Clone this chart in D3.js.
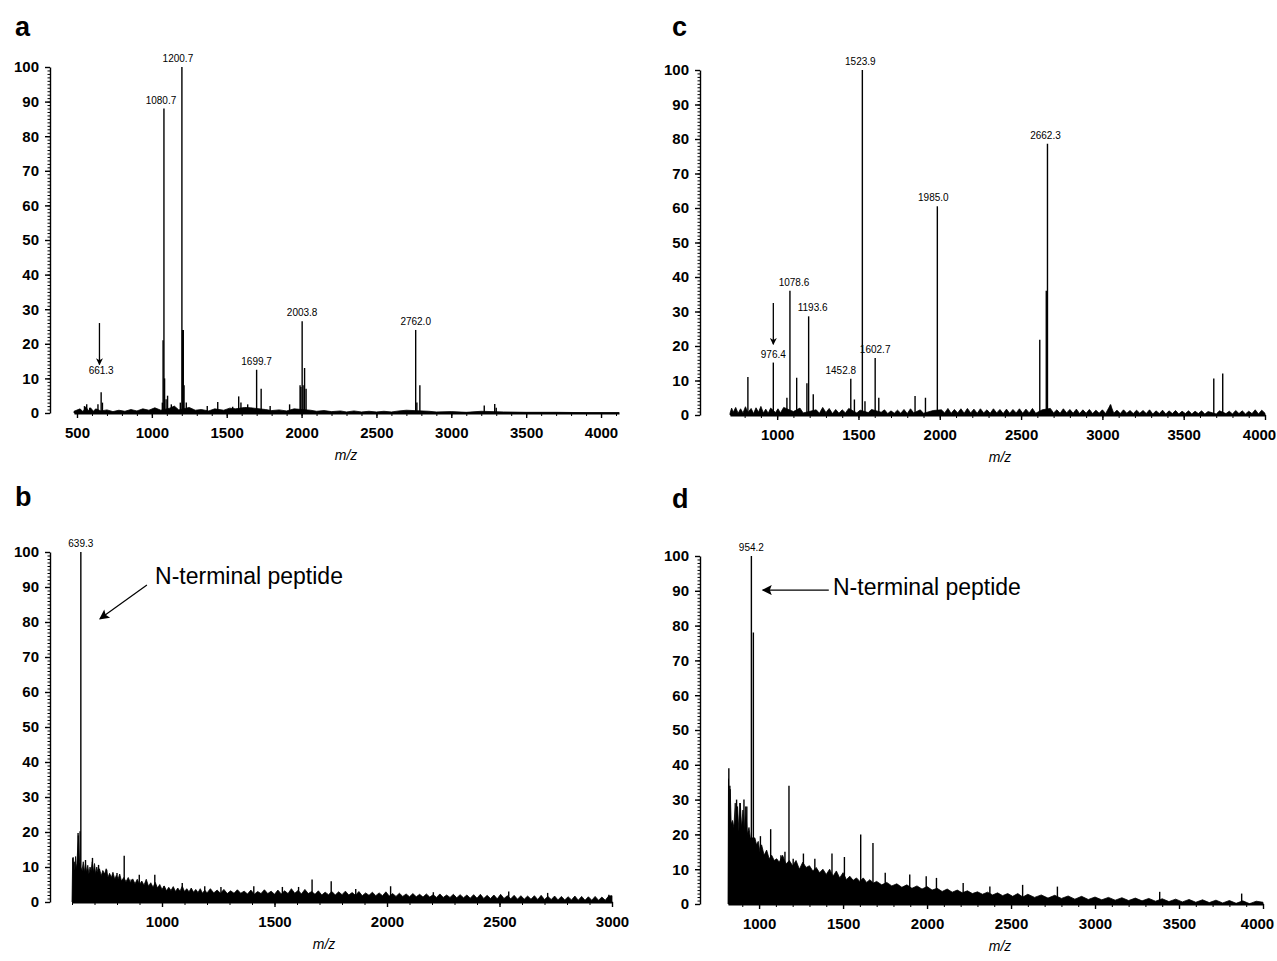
<!DOCTYPE html>
<html>
<head>
<meta charset="utf-8">
<script src="https://cdn.jsdelivr.net/npm/d3@7"></script>
<style>
  body { margin: 0; background: #fff; }
  svg { display: block; }
  text { font-family: "Liberation Sans", Arial, sans-serif; fill: #000; }
</style>
</head>
<body>
<svg id="fig" width="1277" height="961"></svg>
<script>
// tick labels
const yTickLabels = [0, 10, 20, 30, 40, 50, 60, 70, 80, 90, 100];
const xTicksA = [500, 1000, 1500, 2000, 2500, 3000, 3500, 4000];
const xTicksB = [1000, 1500, 2000, 2500, 3000];
const xTicksC = [1000, 1500, 2000, 2500, 3000, 3500, 4000];
const xTicksD = [1000, 1500, 2000, 2500, 3000, 3500, 4000];

// panel a: baseline noise [m/z, %] and peaks
const baseA = [[480,0.5],[520,1.2],[540,0.4],[560,1.8],[575,0.6],[590,1.5],[610,0.5],[625,1.2],[660,0.6],[700,0.9],[740,0.4],[780,0.8],
  [820,0.5],[860,1],[900,0.6],[940,1.2],[980,0.8],[1020,1.5],[1060,0.8],[1120,1.4],[1150,2],[1180,0.9],[1250,1.6],[1290,0.8],[1330,1],[1380,0.6],
  [1420,1.2],[1480,0.8],[1520,1.4],[1560,1.2],[1620,1.6],[1660,1.5],[1760,1],[1800,0.7],[1850,0.9],[1900,0.6],[1950,1.2],[2060,0.8],
  [2100,0.5],[2150,0.7],[2200,0.4],[2260,0.6],[2300,0.3],[2350,0.6],[2400,0.3],[2450,0.5],[2500,0.3],[2550,0.5],[2600,0.3],[2650,0.6],
  [2700,0.8],[2850,0.5],[2900,0.3],[3000,0.4],[3100,0.2],[3200,0.5],[3350,0.3],[3500,0.2],[3700,0.2],[3900,0.1],[4120,0.1]];
const peaksA = [[550,2],[565,2.5],[585,1.5],[640,2.5],[661.3,6],[670,3],[1070,3],[1075,21],[1080.7,88],[1085,10],[1095,4],[1105,5],
  [1130,2.5],[1190,3],[1200.7,100],[1205,24],[1210,24],[1215,8],[1230,3],[1370,2],[1440,3.2],[1540,1.8],[1580,4.8],[1595,3],[1640,2.5],
  [1699.7,12.5],[1730,7],[1790,2],[1920,2.5],[1990,8],[1995,7.5],[2003.8,26.5],[2010,8],[2020,13],[2030,7],[2762,24],[2770,3],[2790,8],
  [3220,2.2],[3290,2.6],[3300,1.5]];
const labelsA = ["661.3", "1080.7", "1200.7", "1699.7", "2003.8", "2762.0"];

// panel b
const baseB = [[600,0],[603,12.5],[607,10],[610,11.5],[613,9],[616,13],[619,9.5],[622,11],[628,19],[633,12],[638,10],[645,9],[650,11.5],
  [655,8.5],[660,11],[665,8.5],[670,10.5],[675,8],[680,10],[685,9],[690,11.5],[695,8.5],[700,11],[705,8],[710,10],[715,8.5],[722,9.5],
  [730,7.5],[737,9],[745,8],[752,9.5],[760,7],[767,8.2],[775,7],[782,8.5],[790,6.5],[797,7.6],[805,6.6],[812,8],[820,6],[830,7],[840,5.8],
  [850,7],[860,5.5],[870,6.6],[880,5.2],[890,6.5],[900,5],[910,6],[920,4.8],[930,6.5],[940,4.5],[950,5.5],[960,4.2],[970,5.6],[980,4],
  [990,5],[1000,3.6],[1010,4.6],[1020,3.2],[1030,4.2],[1040,3.3],[1050,4.4],[1060,3],[1070,4],[1080,3.1],[1090,4.5],[1100,3],[1110,3.8],
  [1120,2.9],[1130,4],[1140,2.8],[1150,3.6],[1160,2.7],[1170,3.8],[1180,2.5],[1190,3.4],[1200,2.6],[1215,3.8],[1230,2.6],[1245,3.4],
  [1260,2.5],[1275,3.6],[1290,2.4],[1305,3.2],[1320,2.5],[1335,3.5],[1350,2.5],[1365,3.1],[1380,2.3],[1395,3.4],[1410,2.2],[1425,3],
  [1440,2.4],[1455,3.5],[1470,2.4],[1485,3.1],[1500,2.2],[1515,3.4],[1530,2.3],[1545,3.2],[1560,2.4],[1575,3.8],[1590,2.5],[1605,3.3],
  [1620,2.3],[1635,3.6],[1650,2.4],[1665,3],[1680,2.2],[1695,3.2],[1710,2],[1725,2.8],[1740,2.1],[1755,3],[1770,2],[1785,2.9],[1800,2.1],
  [1815,3.1],[1830,2],[1845,2.7],[1860,1.9],[1875,3],[1890,1.8],[1905,2.6],[1920,1.9],[1935,2.8],[1950,1.8],[1965,2.6],[1980,1.8],
  [1995,2.9],[2010,1.7],[2025,2.4],[2040,1.6],[2055,2.5],[2070,1.6],[2085,2.3],[2100,1.5],[2115,2.4],[2130,1.5],[2145,2.2],[2160,1.4],
  [2175,2.3],[2190,1.4],[2205,2.1],[2220,1.3],[2235,2.3],[2250,1.3],[2265,2],[2280,1.3],[2295,2.2],[2310,1.2],[2325,2.1],[2340,1.2],
  [2355,2],[2370,1.1],[2385,2.1],[2400,1.1],[2415,2.2],[2430,1],[2445,1.9],[2460,1],[2475,2],[2490,0.9],[2505,2.2],[2520,1],[2535,1.8],
  [2550,0.9],[2565,1.9],[2580,0.8],[2595,1.8],[2610,0.8],[2625,1.7],[2640,0.8],[2655,1.8],[2670,0.7],[2685,1.9],[2700,0.7],[2715,1.6],
  [2730,0.7],[2745,1.7],[2760,0.6],[2775,1.6],[2790,0.6],[2805,1.5],[2820,0.6],[2835,1.7],[2850,0.5],[2865,1.6],[2880,0.5],[2895,1.5],
  [2910,0.5],[2925,1.6],[2940,0.5],[2955,1.4],[2970,0.5],[2985,1.7],[3000,1.8],[3000,0]];
const peaksB = [[605,12.8],[627,19.7],[636,20.2],[639.3,100],[660,12],[691,12.6],[718,10.6],[754,9.2],[800,8.3],[832,13.2],[863,6.4],
  [899,7.8],[968,7.8],[1008,4.5],[1090,5.4],[1190,4.5],[1262,4.3],[1408,4.5],[1535,4.3],[1607,4.3],[1667,6.4],[1752,5.9],[1861,3.7],
  [2016,4.5],[2206,2.8],[2541,3],[2714,2.6],[2986,2.1]];
const labelsB = ["639.3"];

// panel c
const baseC = [[710,0.5],[720,2],[730,0.8],[745,2.2],[760,0.5],[775,1.8],[790,0.6],[805,2.4],[820,0.7],[840,1.9],[855,0.4],[870,2.1],
  [885,0.8],[900,2.5],[915,0.6],[930,1.7],[945,0.5],[960,2],[990,0.7],[1005,1.8],[1020,0.6],[1040,2.2],[1100,1],[1140,2],[1160,0.6],
  [1240,1.5],[1260,0.5],[1280,2.2],[1300,0.7],[1320,1.9],[1340,0.4],[1360,1.6],[1380,0.5],[1400,1.5],[1420,0.6],[1440,1.9],[1490,0.6],
  [1510,1.4],[1560,0.7],[1580,1.6],[1640,0.8],[1660,1.5],[1680,0.4],[1700,1.2],[1720,0.5],[1740,1.4],[1760,0.5],[1780,1.6],[1800,0.4],
  [1820,1.8],[1840,0.6],[1880,1.5],[1900,0.5],[1960,1.3],[2010,1.5],[2030,0.6],[2050,1.9],[2070,0.5],[2090,1.6],[2110,0.6],[2130,1.8],
  [2150,0.5],[2170,1.9],[2190,0.6],[2210,1.7],[2230,0.5],[2250,1.8],[2270,0.6],[2290,1.5],[2310,0.5],[2330,1.8],[2350,0.6],[2370,1.6],
  [2390,0.4],[2410,1.7],[2430,0.5],[2450,1.6],[2470,0.6],[2490,1.8],[2510,0.5],[2530,1.7],[2550,0.6],[2570,1.9],[2590,0.5],[2630,1.5],
  [2680,1.9],[2700,0.6],[2720,1.5],[2740,0.5],[2760,1.8],[2780,0.6],[2800,1.6],[2820,0.5],[2840,1.7],[2860,0.4],[2880,1.5],[2900,0.5],
  [2920,1.6],[2940,0.4],[2960,1.4],[2980,0.5],[3000,1.5],[3020,0.4],[3050,3],[3070,0.5],[3090,1.4],[3110,0.4],[3130,1.5],[3150,0.5],
  [3170,1.3],[3190,0.4],[3210,1.4],[3230,0.5],[3250,1.3],[3270,0.4],[3290,1.5],[3310,0.3],[3330,1.2],[3350,0.4],[3370,1.4],[3390,0.3],
  [3410,1.2],[3430,0.4],[3450,1.3],[3470,0.3],[3490,1.1],[3510,0.4],[3530,1.2],[3550,0.3],[3570,1.1],[3590,0.4],[3610,1.2],[3630,0.3],
  [3650,1],[3700,0.3],[3720,1.2],[3760,0.4],[3780,1.1],[3800,0.3],[3820,1.3],[3840,0.4],[3860,1.2],[3880,0.3],[3900,1.1],[3920,0.4],
  [3940,1.5],[3960,0.3],[3980,1.4],[4000,0.5]];
const peaksC = [[820,11],[976.4,15.2],[1060,5],[1078.6,36],[1120,10.8],[1183,9.2],[1193.6,28.6],[1222,6],[1452.8,10.5],[1475,4.5],
  [1523.9,100],[1540,4],[1602.7,16.5],[1625,5],[1848,5.5],[1912,5],[1985.0,60.5],[2615,21.8],[2655,36],[2662.3,78.6],[3050,3],
  [3685,10.6],[3740,12]];
const labelsC = ["976.4", "1078.6", "1193.6", "1452.8", "1523.9", "1602.7", "1985.0", "2662.3"];

// panel d
const baseD = [[815,0],[818,36],[822,22],[828,33],[834,23],[842,24],[850,22],[858,29],[864,22],[872,28],[880,21],[888,29],[896,22],
  [904,27],[912,21],[920,28],[930,20],[940,22],[948,19],[975,19],[985,17],[995,18],[1005,15],[1015,17],[1030,14],[1045,15.5],[1060,13],
  [1075,14],[1090,12.5],[1105,13],[1120,12],[1140,14],[1160,11.5],[1180,12.5],[1200,11],[1220,12.5],[1240,10],[1260,12],[1280,10.5],
  [1300,11],[1320,9.5],[1340,10.5],[1360,9],[1380,10],[1400,8.5],[1420,10],[1440,8],[1460,9.5],[1480,7.5],[1500,9],[1520,7],[1540,8],
  [1560,6.8],[1580,7.5],[1600,6.5],[1620,7.5],[1640,6.2],[1660,7],[1680,6],[1700,6.5],[1730,5.5],[1760,6.2],[1790,5.2],[1820,5.8],
  [1850,4.8],[1880,5.5],[1910,4.5],[1940,5.2],[1970,4.3],[2000,5],[2030,4],[2060,4.5],[2090,3.6],[2120,4.3],[2150,3.4],[2180,4],
  [2210,3.2],[2240,3.8],[2270,3],[2300,3.5],[2330,2.8],[2360,3.4],[2390,2.6],[2420,3.2],[2450,2.4],[2480,3],[2510,2.2],[2540,3],
  [2570,2],[2600,2.8],[2640,1.9],[2680,2.6],[2720,1.7],[2760,2.5],[2800,1.6],[2840,2.3],[2880,1.4],[2920,2.2],[2960,1.3],[3000,2],
  [3040,1.2],[3080,1.9],[3120,1.1],[3160,1.8],[3200,1],[3240,1.7],[3280,0.9],[3320,1.6],[3360,0.8],[3400,1.5],[3440,0.7],[3480,1.4],
  [3520,0.6],[3560,1.3],[3600,0.5],[3640,1.2],[3680,0.4],[3720,1.1],[3760,0.3],[3800,1],[3840,0.2],[3880,0.9],[3920,0.1],[3960,0.8],
  [4000,0.5],[4000,0]];
const peaksD = [[820,39],[826,34],[866,30],[886,29],[910,30],[927,28],[954.2,100],[966,78],[1008,19.5],[1069,21.5],[1130,14],[1154,15],
  [1178,34],[1203,13],[1264,14.5],[1332,13],[1434,14.5],[1508,13.5],[1605,20],[1678,17.5],[1751,9],[1897,8.5],[1995,8],[2056,7.5],
  [2215,6],[2374,5],[2569,5.5],[2776,5],[3385,3.5],[3873,3]];
const labelsD = ["954.2"];

const svg = d3.select("#fig");

const defs = svg.append("defs");
defs.append("marker")
    .attr("id", "head")
    .attr("viewBox", "0 0 10 10")
    .attr("refX", 9).attr("refY", 5)
    .attr("markerWidth", 7).attr("markerHeight", 7)
    .attr("markerUnits", "userSpaceOnUse")
    .attr("orient", "auto")
    .append("path")
    .attr("d", "M0,0 L10,5 L0,10 L3,5 Z")
    .attr("fill", "#000");
defs.append("marker")
    .attr("id", "headBig")
    .attr("viewBox", "0 0 10 10")
    .attr("refX", 9).attr("refY", 5)
    .attr("markerWidth", 12).attr("markerHeight", 10)
    .attr("markerUnits", "userSpaceOnUse")
    .attr("orient", "auto")
    .append("path")
    .attr("d", "M0,0 L10,5 L0,10 L2,5 Z")
    .attr("fill", "#000");

const panels = [
    { letter: "a", lx: 15, ly: 36, axisX: 50, domain: [480, 4120], range: [74, 619], y0: 413, y100: 67, titleX: 346,
      ticks: xTicksA, base: baseA, peaks: peaksA, labels: labelsA, labelDx: { "1080.7": -3, "1200.7": -4, "661.3": 0 },
      labelLift: { "661.3": 13 },
      arrow: { mz: 650, from: 26, to: 14 } },
    { letter: "b", lx: 15, ly: 506, axisX: 50, domain: [600, 3000], range: [72, 612], y0: 902, y100: 552, titleX: 324,
      ticks: xTicksB, base: baseB, peaks: peaksB, labels: labelsB, labelDx: {}, labelLift: {},
      note: { text: [969, 91], tail: [933, 90.6], tip: [724, 80.9] } },
    { letter: "c", lx: 672, ly: 36, axisX: 700, domain: [710, 4000], range: [730, 1265], y0: 415, y100: 70, titleX: 1000,
      ticks: xTicksC, base: baseC, peaks: peaksC, labels: labelsC,
      labelDx: { "1452.8": -10, "1078.6": 4, "1193.6": 4, "1985.0": -4, "2662.3": -2, "1523.9": -2 }, labelLift: {},
      arrow: { mz: 976.4, from: 32.5, to: 20.5 } },
    { letter: "d", lx: 672, ly: 508, axisX: 700, domain: [815, 4000], range: [728, 1263], y0: 904, y100: 556, titleX: 1000,
      ticks: xTicksD, base: baseD, peaks: peaksD, labels: labelsD, labelDx: {}, labelLift: {},
      note: { text: [1440, 88.8], tail: [1415, 90.2], tip: [1022, 90.2] } }
];

panels.forEach(drawPanel);

function drawPanel(p) {
    const g = svg.append("g");
    const x = d3.scaleLinear().domain(p.domain).range(p.range);
    const y = d3.scaleLinear().domain([0, 100]).range([p.y0, p.y100]);

    // panel letter
    g.append("text")
        .attr("x", p.lx).attr("y", p.ly)
        .attr("font-size", 27).attr("font-weight", "bold")
        .text(p.letter);

    // y axis: minor ticks then labelled ticks
    g.append("g")
        .attr("transform", `translate(${p.axisX},0)`)
        .call(d3.axisLeft(y).tickValues(d3.range(0, 101, 1)).tickSize(2.5).tickSizeOuter(0).tickFormat(""))
        .call(s => s.select(".domain").attr("stroke-width", 1.4));
    g.append("g")
        .attr("transform", `translate(${p.axisX},0)`)
        .call(d3.axisLeft(y).tickValues(yTickLabels).tickSize(5).tickSizeOuter(0).tickPadding(6))
        .call(s => s.select(".domain").remove())
        .call(s => s.selectAll("line").attr("stroke-width", 1.4))
        .call(s => s.selectAll("text")
            .attr("font-family", "'Liberation Sans', Arial, sans-serif")
            .attr("font-size", 15).attr("font-weight", "bold").attr("fill", "#000"));

    // spectrum baseline noise
    const area = d3.area()
        .x(d => x(d[0]))
        .y0(y(0))
        .y1(d => y(d[1]));
    g.append("path")
        .datum(p.base)
        .attr("d", area)
        .attr("fill", "#000")
        .attr("stroke", "#000")
        .attr("stroke-width", 0.8)
        .attr("stroke-linejoin", "round");

    // peaks
    g.selectAll(".peak")
        .data(p.peaks)
        .enter().append("line")
        .attr("class", "peak")
        .attr("x1", d => x(d[0])).attr("x2", d => x(d[0]))
        .attr("y1", y(0)).attr("y2", d => y(d[1]))
        .attr("stroke", "#000")
        .attr("stroke-width", 1.4);

    // x axis: minor ticks every 100, labelled ticks
    const minor = d3.range(Math.ceil(p.domain[0] / 100) * 100, p.domain[1] + 1, 100);
    g.append("g")
        .attr("transform", `translate(0,${p.y0})`)
        .call(d3.axisBottom(x).tickValues(minor).tickSize(3).tickSizeOuter(0).tickFormat(""))
        .call(s => s.select(".domain").attr("stroke-width", 1.8));
    const xa = g.append("g")
        .attr("transform", `translate(0,${p.y0})`)
        .call(d3.axisBottom(x).tickValues(p.ticks).tickSize(5).tickSizeOuter(0).tickPadding(9).tickFormat(d3.format("d")))
        .call(s => s.select(".domain").remove())
        .call(s => s.selectAll("line").attr("stroke-width", 1.4))
        .call(s => s.selectAll("text")
            .attr("font-family", "'Liberation Sans', Arial, sans-serif")
            .attr("font-size", 15).attr("font-weight", "bold").attr("fill", "#000"));
    // keep the last label inside the page
    xa.selectAll(".tick").filter(d => x(d) > 1240).select("text").attr("dx", -6);

    // axis title
    g.append("text")
        .attr("x", p.titleX)
        .attr("y", p.y0 + 47)
        .attr("text-anchor", "middle")
        .attr("font-size", 14).attr("font-style", "italic")
        .text("m/z");

    // peak labels
    p.labels.forEach(function (lab) {
        const mz = +lab;
        const pk = p.peaks.find(d => Math.abs(d[0] - mz) < 0.01);
        g.append("text")
            .attr("x", x(mz) + (p.labelDx[lab] || 0))
            .attr("y", y(pk[1]) - 5 - (p.labelLift[lab] || 0))
            .attr("text-anchor", "middle")
            .attr("font-size", 10)
            .text(lab);
    });

    // small downward arrow
    if (p.arrow) {
        g.append("line")
            .attr("x1", x(p.arrow.mz)).attr("x2", x(p.arrow.mz))
            .attr("y1", y(p.arrow.from)).attr("y2", y(p.arrow.to))
            .attr("stroke", "#000").attr("stroke-width", 1.3)
            .attr("marker-end", "url(#head)");
    }

    // N-terminal annotation
    if (p.note) {
        g.append("text")
            .attr("x", x(p.note.text[0])).attr("y", y(p.note.text[1]))
            .attr("font-size", 23)
            .text("N-terminal peptide");
        g.append("line")
            .attr("x1", x(p.note.tail[0])).attr("y1", y(p.note.tail[1]))
            .attr("x2", x(p.note.tip[0])).attr("y2", y(p.note.tip[1]))
            .attr("stroke", "#000").attr("stroke-width", 1.2)
            .attr("marker-end", "url(#headBig)");
    }
}
</script>
</body>
</html>
